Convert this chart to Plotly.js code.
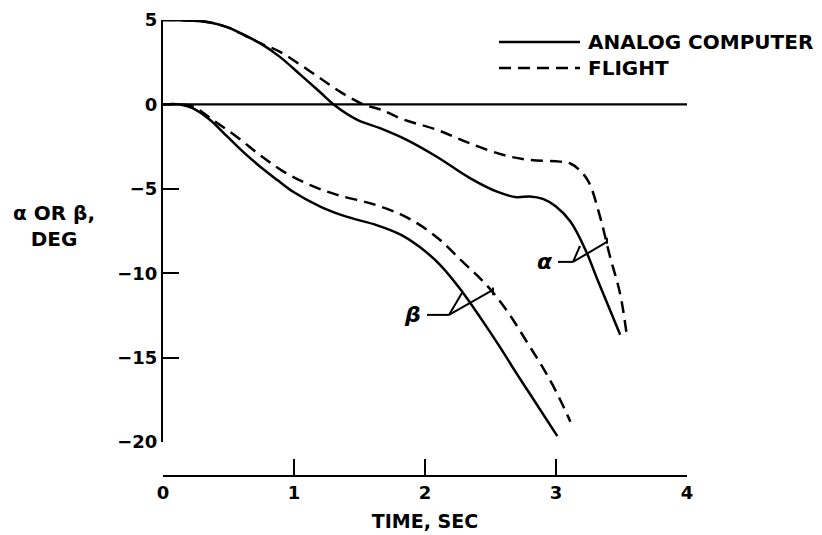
<!DOCTYPE html>
<html>
<head>
<meta charset="utf-8">
<script src="https://cdn.plot.ly/plotly-3.0.1.min.js"></script>
<style>html,body{margin:0;padding:0;background:#fff;}#chart{width:822px;height:535px;}</style>
</head>
<body>
<div id="chart"></div>
<script>
// ---- data ----
const alphaAnalogT = [0, 0.2, 0.36, 0.5, 0.59, 0.74, 0.89, 1.05, 1.2, 1.31, 1.48, 1.656, 1.86, 2.09, 2.34, 2.55, 2.7, 2.8, 2.9, 3.0, 3.11, 3.225, 3.32, 3.49];
const alphaAnalogV = [5, 4.97, 4.85, 4.55, 4.22, 3.63, 2.83, 1.75, 0.72, -0.05, -0.9, -1.41, -2.1, -3.1, -4.35, -5.17, -5.5, -5.45, -5.6, -6.05, -6.94, -8.62, -10.45, -13.65];

const alphaFlightT = [0, 0.2, 0.36, 0.5, 0.59, 0.74, 0.89, 1.05, 1.2, 1.35, 1.53, 1.66, 1.83, 2.09, 2.34, 2.6, 2.8, 3.03, 3.11, 3.18, 3.25, 3.336, 3.412, 3.489, 3.54];
const alphaFlightV = [5, 4.97, 4.85, 4.55, 4.22, 3.63, 3.13, 2.34, 1.55, 0.76, 0.0, -0.3, -0.88, -1.5, -2.3, -3.0, -3.29, -3.39, -3.5, -3.9, -4.6, -6.65, -9.0, -11.2, -13.65];

const betaAnalogT = [0, 0.13, 0.23, 0.36, 0.49, 0.61, 0.74, 0.87, 0.99, 1.2, 1.4, 1.63, 1.81, 1.96, 2.115, 2.27, 2.42, 2.57, 2.7, 2.83, 3.01];
const betaAnalogV = [0, 0, -0.23, -0.92, -1.9, -2.8, -3.68, -4.47, -5.16, -6.05, -6.65, -7.15, -7.7, -8.45, -9.5, -10.95, -12.6, -14.35, -15.95, -17.5, -19.65];

const betaFlightT = [0, 0.13, 0.23, 0.38, 0.56, 0.74, 0.92, 1.12, 1.33, 1.6, 1.81, 1.96, 2.115, 2.27, 2.4, 2.52, 2.65, 2.78, 2.9, 3.0, 3.11];
const betaFlightV = [0, 0, -0.13, -0.92, -1.9, -3.0, -3.98, -4.77, -5.36, -5.9, -6.5, -7.14, -8.03, -9.2, -10.15, -11.15, -12.5, -14.1, -15.6, -17.0, -18.8];

const zeroLineT = [0, 4.04];
const zeroLineV = [0, 0];

const xTickVals = [0, 1, 2, 3, 4];
const xTickText = ['0', '1', '2', '3', '4'];
const yTickVals = [-20, -15, -10, -5, 0, 5];
const yTickText = ['−20', '−15', '−10', '−5', '0', '5'];

const seriesNames = ['ANALOG COMPUTER', 'FLIGHT'];

// ---- styling ----
const FONT = 'DejaVu Sans, Liberation Sans, sans-serif';
const LW = 2.5;
const DASH = '12px,7px';
const solid = {color: '#000', width: LW, shape: 'spline', smoothing: 1};
const dashed = {color: '#000', width: LW, dash: DASH, shape: 'spline', smoothing: 1};

const traces = [
  {x: zeroLineT, y: zeroLineV, mode: 'lines', line: {color: '#000', width: 2.2}, showlegend: false, hoverinfo: 'skip'},
  {x: alphaAnalogT, y: alphaAnalogV, mode: 'lines', line: solid, name: seriesNames[0], showlegend: false},
  {x: alphaFlightT, y: alphaFlightV, mode: 'lines', line: dashed, name: seriesNames[1], showlegend: false},
  {x: betaAnalogT, y: betaAnalogV, mode: 'lines', line: solid, name: seriesNames[0], showlegend: false},
  {x: betaFlightT, y: betaFlightV, mode: 'lines', line: dashed, name: seriesNames[1], showlegend: false}
];

const L = 163, R = 687, T = 20, B = 476;
const px = v => (v - L) / (R - L);
const py = v => (B - v) / (B - T);

const leader = {color: '#000', width: 2};
const shapes = [
  // legend samples
  {type: 'line', xref: 'paper', yref: 'paper', x0: px(499), x1: px(580), y0: py(42), y1: py(42), line: {color: '#000', width: LW}},
  {type: 'line', xref: 'paper', yref: 'paper', x0: px(499), x1: px(580), y0: py(68), y1: py(68), line: {color: '#000', width: LW, dash: DASH}},
  // alpha leader
  {type: 'line', xref: 'x', yref: 'y', x0: 3.015, x1: 3.13, y0: -9.33, y1: -9.33, line: leader},
  {type: 'line', xref: 'x', yref: 'y', x0: 3.13, x1: 3.183, y0: -9.33, y1: -8.39, line: leader},
  {type: 'line', xref: 'x', yref: 'y', x0: 3.13, x1: 3.389, y0: -9.33, y1: -8.15, line: leader},
  {type: 'line', xref: 'x', yref: 'y', x0: 3.389, x1: 3.389, y0: -8.25, y1: -7.9, line: leader},
  // beta leader
  {type: 'line', xref: 'x', yref: 'y', x0: 2.015, x1: 2.183, y0: -12.47, y1: -12.47, line: leader},
  {type: 'line', xref: 'x', yref: 'y', x0: 2.183, x1: 2.282, y0: -12.47, y1: -11.17, line: leader},
  {type: 'line', xref: 'x', yref: 'y', x0: 2.183, x1: 2.519, y0: -12.47, y1: -10.99, line: leader},
  {type: 'line', xref: 'x', yref: 'y', x0: 2.519, x1: 2.519, y0: -11.3, y1: -10.85, line: leader}
];

const txt = (size) => ({family: FONT, size: size, color: '#000', weight: 'bold'});

const annotations = [
  {xref: 'paper', yref: 'paper', x: px(586), y: py(42), xanchor: 'left', yanchor: 'middle', text: seriesNames[0], showarrow: false, font: txt(20)},
  {xref: 'paper', yref: 'paper', x: px(586), y: py(68), xanchor: 'left', yanchor: 'middle', text: seriesNames[1], showarrow: false, font: txt(20)},
  {xref: 'paper', yref: 'paper', x: px(54), y: py(226), xanchor: 'center', yanchor: 'middle', align: 'center', text: 'α OR β,<br>DEG', showarrow: false, font: txt(20)},
  {xref: 'x', yref: 'y', x: 2.916, y: -9.33, xanchor: 'center', yanchor: 'middle', text: '<i>α</i>', showarrow: false, font: txt(22)},
  {xref: 'x', yref: 'y', x: 1.908, y: -12.47, xanchor: 'center', yanchor: 'middle', text: '<i>β</i>', showarrow: false, font: txt(22)}
];

const layout = {
  width: 822, height: 535,
  margin: {l: L, r: 822 - R, t: T, b: 535 - B, pad: 0},
  paper_bgcolor: '#fff', plot_bgcolor: '#fff',
  showlegend: false,
  font: {family: FONT, size: 18, color: '#000'},
  xaxis: {
    range: [0, 4], anchor: 'free', position: 0,
    showline: true, linecolor: '#000', linewidth: 2,
    showgrid: false, zeroline: false,
    ticks: 'inside', ticklen: 16, tickwidth: 2, tickcolor: '#000',
    tickvals: xTickVals, ticktext: xTickText,
    tickfont: txt(18),
    title: {text: 'TIME, SEC', font: txt(19), standoff: 12}
  },
  yaxis: {
    range: [-20, 5], domain: [(B - 442) / (B - T), 1],
    showline: true, linecolor: '#000', linewidth: 2,
    showgrid: false, zeroline: false,
    ticks: 'inside', ticklen: 16, tickwidth: 2, tickcolor: '#000',
    tickvals: yTickVals, ticktext: yTickText,
    tickfont: txt(18)
  },
  shapes: shapes,
  annotations: annotations
};

Plotly.newPlot('chart', traces, layout, {staticPlot: true, displayModeBar: false});
</script>
</body>
</html>
